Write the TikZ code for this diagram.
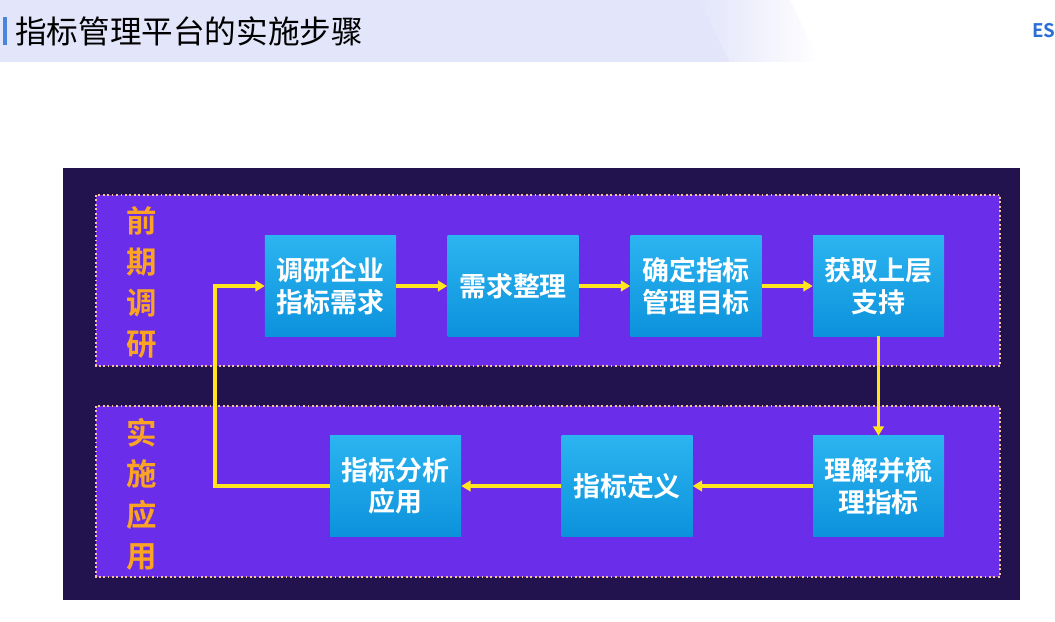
\documentclass[tikz,border=0pt]{standalone}
\usepackage{fontspec}
\setmainfont{Noto Sans CJK SC}[BoldFont={Noto Sans CJK SC Bold}]
\usetikzlibrary{positioning,arrows.meta}

\definecolor{band}{HTML}{E3E5FA}
\definecolor{navy}{HTML}{22124E}
\definecolor{violet}{HTML}{6A2DE9}
\definecolor{dots}{HTML}{F4C39A}
\definecolor{tag}{HTML}{FBA323}
\definecolor{cyantop}{HTML}{2BB4F0}
\definecolor{cyanbot}{HTML}{0C92DC}
\definecolor{flow}{HTML}{FFE420}
\definecolor{esblue}{HTML}{2A6FD6}

\tikzset{
  stepbox/.style={rectangle, top color=cyantop, bottom color=cyanbot,
    minimum width=3.93cm, minimum height=3cm, inner sep=0pt,
    text=white, font=\fontsize{23pt}{27pt}\selectfont\bfseries, align=center},
  region/.style={fill=violet, draw=dots, line width=2pt,
    dash pattern=on 1.6pt off 2.2pt},
  sidetag/.style={text=tag, font=\fontsize{26pt}{35pt}\selectfont\bfseries, align=center},
  flowline/.style={draw=flow, line width=2.6pt, -{Triangle[length=8pt,width=9pt]}}
}

\begin{document}
\begin{tikzpicture}[x=0.03cm, y=-0.03cm]
    % page
    \fill[white] (0,0) rectangle (1055,622);
    \useasboundingbox (0,0) rectangle (1055,622);
    % header band, fading out to the right
    \fill[band] (0,0) -- (700,0) -- (730,62) -- (0,62) -- cycle;
    \shade[left color=band, right color=white] (700,0) -- (790,0) -- (820,62) -- (730,62) -- cycle;
    \fill[esblue!85] (3,17) rectangle (7,45);
    \node[anchor=west, font=\fontsize{27pt}{30pt}\selectfont] (title) at (11,31) {指标管理平台的实施步骤};
    \node[anchor=west, text=esblue, font=\fontsize{16pt}{18pt}\selectfont\bfseries] (logo) at (1028,31) {ES};
    % dark panel and the two regions
    \fill[navy] (63,168) rectangle (1020,600);
    \draw[region] (96,195) rectangle (1000,366);
    \draw[region] (96,406) rectangle (1000,577);
    % side tags
    \node[sidetag] (early) at (142,282) {前\\期\\调\\研};
    \node[sidetag] (apply) at (142,494) {实\\施\\应\\用};
    % steps
    \node[stepbox] (survey) at (330.5,286) {调研企业\\指标需求};
    \node[stepbox] (sort) at (513,286) {需求整理};
    \node[stepbox] (goal) at (696,286) {确定指标\\管理目标};
    \node[stepbox] (support) at (878.5,286) {获取上层\\支持};
    \node[stepbox] (comb) at (878.5,486) {理解并梳\\理指标};
    \node[stepbox] (define) at (627,486) {指标定义};
    \node[stepbox] (use) at (395.5,486) {指标分析\\应用};
    % arrows
    \coordinate (back) at (215,385);
    \draw[flowline] (survey) -- (sort);
    \draw[flowline] (sort) -- (goal);
    \draw[flowline] (goal) -- (support);
    \draw[flowline] (support) -- (comb);
    \draw[flowline] (comb) -- (define);
    \draw[flowline] (define) -- (use);
    \draw[flowline] (use.west) -| (back) |- (survey.west);
\end{tikzpicture}
\end{document}
